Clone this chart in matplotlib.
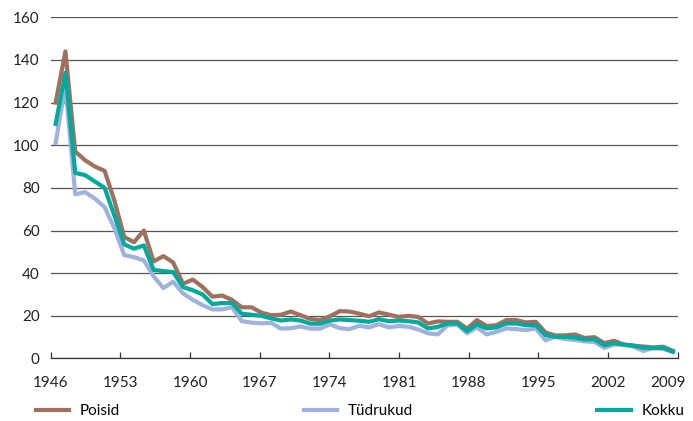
import matplotlib.pyplot as plt
import matplotlib.transforms as mtransforms
import numpy as np

plt.rcParams['font.family'] = ['Lato', 'DejaVu Sans']

years = np.arange(1946, 2010)

poisid = [120, 144, 97, 93, 90, 88, 74, 57, 54.5, 60, 45.5, 48, 45, 35, 37, 33.5, 29, 29.5, 27.5, 24, 24,
          21.5, 20.3, 20.5, 22, 20.3, 18.5, 18, 19.8, 22.2, 22, 21,
          19.8, 21.6, 20.6, 19.5, 20, 19.5, 16.4, 17.4, 17.2, 17.2, 14,
          18, 15.2, 15.6, 18, 18, 16.9, 17.2, 12.2, 10.8, 10.8, 11.3,
          9.6, 10, 7.2, 8.3, 6.5, 6, 5.6, 5.2, 5.5, 3.6]

tydrukud = [101, 128, 77, 78, 75, 71, 61, 48.5, 47.5, 46, 38.5, 33, 36, 30.5, 27.5, 25, 23, 23, 24, 17.5, 16.8,
            16.5, 16.7, 14, 14.2, 15, 14, 14, 16, 14.2, 13.8, 15.3,
            14.6, 16.1, 14.6, 15.2, 14.9, 13.6, 11.8, 11.3, 15.5, 16, 11.8,
            14.6, 11.3, 12.5, 14.1, 13.8, 13.3, 14.1, 8.5, 10.2, 9.1, 8.7,
            8, 7.8, 5, 6.5, 6.5, 5.5, 3.5, 5, 4.5, 3]

kokku = [110, 134, 87, 86, 83, 80, 67, 53.5, 51.5, 53, 41.5, 41, 40.5, 33.5, 32, 30, 25.5, 26, 26, 21, 20.5,
         20, 18.8, 17.8, 18.3, 17.8, 16.3, 16.3, 17.8, 18.3, 18, 17.7,
         17.2, 18.4, 17.5, 17.8, 17.5, 16.9, 14.1, 14.8, 16.4, 16.4, 12.8,
         16, 14.1, 14.6, 16.4, 16.4, 15.6, 15.6, 11, 10.2, 10.2, 9.8,
         9, 9, 6.2, 7.2, 6.5, 6, 5, 4.8, 5, 3.2]

tick_labels = ['1946', '1953', '1960', '1967', '1974', '1981', '1988', '1995', '2002', '2009']

c_poisid = '#a0705f'
c_tydrukud = '#9fb2dd'
c_kokku = '#00aa9c'

fig = plt.figure(figsize=(6.93, 4.21), dpi=100)
ax = fig.add_axes([0.0732, 0.1485, 0.9048, 0.8105])

ax.plot(years, poisid, color=c_poisid, lw=3.0, label='Poisid')
ax.plot(years, tydrukud, color=c_tydrukud, lw=3.0, label='Tüdrukud')
ax.plot(years, kokku, color=c_kokku, lw=3.0, label='Kokku')

ax.set_xlim(1945.5, 2009.5)
ax.set_ylim(0, 160)
ax.set_yticks(np.arange(0, 161, 20))
ax.set_xticks(np.linspace(1945.5, 2009.5, len(tick_labels)))
ax.set_xticklabels(tick_labels)

ax.yaxis.grid(True, color='#555555', lw=0.9)
ax.set_axisbelow(True)
for s in ['top', 'right', 'left']:
    ax.spines[s].set_visible(False)
ax.spines['bottom'].set_color('#333333')
ax.spines['bottom'].set_linewidth(0.9)
ax.tick_params(axis='y', length=0, pad=8, labelsize=11, colors='#222222')
ax.tick_params(axis='x', direction='in', length=4, width=0.9, color='#333333',
               pad=12.5, labelsize=11, labelcolor='#222222')

# last year label sits a bit left so it stays inside the picture
last = ax.get_xticklabels()[-1]
last.set_transform(last.get_transform() +
                   mtransforms.ScaledTranslation(-7 / 72, 0, fig.dpi_scale_trans))

fig.legend(loc='lower left', bbox_to_anchor=(0.047, 0.0, 0.945, 0.06), ncol=3,
           mode='expand', frameon=False, fontsize=11, handlelength=2.2,
           handletextpad=0.7, borderaxespad=0, borderpad=0.2)

fig.savefig('out.png', dpi=100)
